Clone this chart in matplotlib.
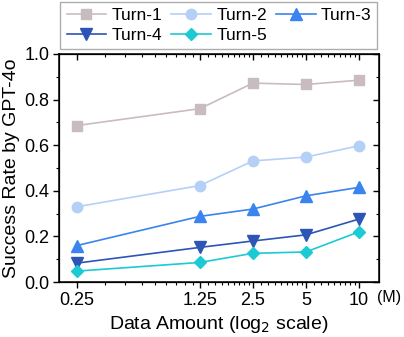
import numpy as np
import matplotlib
matplotlib.use("Agg")
import matplotlib.pyplot as plt
from matplotlib.ticker import FixedLocator, NullFormatter, FixedFormatter, MultipleLocator

plt.rcParams['font.family'] = ['Liberation Sans', 'DejaVu Sans']

# data
data_amount = [0.25, 1.25, 2.5, 5, 10]
tick_labels = ["0.25", "1.25", "2.5", "5", "10"]
turn1 = [0.686, 0.760, 0.872, 0.866, 0.885]
turn2 = [0.330, 0.423, 0.531, 0.548, 0.597]
turn3 = [0.160, 0.288, 0.320, 0.378, 0.415]
turn4 = [0.083, 0.152, 0.180, 0.207, 0.276]
turn5 = [0.048, 0.086, 0.126, 0.132, 0.220]
series_names = ["Turn-1", "Turn-2", "Turn-3", "Turn-4", "Turn-5"]

colors = ["#c9bcbf", "#b5d0f7", "#3b84ef", "#2d55b5", "#1ccad3"]
markers = ["s", "o", "^", "v", "D"]
msizes = [7, 7.5, 8, 8, 6.5]

fig = plt.figure(figsize=(4.04, 3.37), dpi=100)
ax = fig.add_axes([0.146, 0.163, 0.792, 0.677])

handles = []
for vals, name, c, m, ms in zip([turn1, turn2, turn3, turn4, turn5],
                                series_names, colors, markers, msizes):
    h, = ax.plot(data_amount, vals, color=c, marker=m, markersize=ms,
                 linewidth=1.2, label=name)
    handles.append(h)

ax.set_xscale("log", base=2)
xlim = (0.198, 13.0)
ax.set_xlim(*xlim)
ax.set_ylim(0, 1.0)

# minor ticks: 8 evenly spaced between major ones
minor = []
for a, b in zip(data_amount[:-1], data_amount[1:]):
    minor.extend(np.linspace(a, b, 10)[1:-1])

def setup_x(a):
    a.xaxis.set_major_locator(FixedLocator(data_amount))
    a.xaxis.set_major_formatter(FixedFormatter(tick_labels))
    a.xaxis.set_minor_locator(FixedLocator(minor))
    a.xaxis.set_minor_formatter(NullFormatter())

setup_x(ax)
ax.yaxis.set_major_locator(MultipleLocator(0.2))
ax.yaxis.set_minor_locator(MultipleLocator(0.1))
ax.tick_params(which="major", direction="out", length=4, width=1, labelsize=13, pad=3)
ax.tick_params(which="minor", direction="out", length=2, width=0.8)
for s in ax.spines.values():
    s.set_linewidth(1.1)

# top / right ticks pointing inward
axt = ax.twiny()
axt.set_xscale("log", base=2)
axt.set_xlim(*xlim)
setup_x(axt)
axt.tick_params(which="major", direction="in", length=4, width=1, labeltop=False)
axt.tick_params(which="minor", direction="in", length=2, width=0.8)
axr = ax.twinx()
axr.set_ylim(0, 1.0)
axr.yaxis.set_major_locator(MultipleLocator(0.2))
axr.yaxis.set_minor_locator(MultipleLocator(0.1))
axr.tick_params(which="major", direction="in", length=4, width=1, labelright=False)
axr.tick_params(which="minor", direction="in", length=2, width=0.8)

ax.set_xlabel("Data Amount (log$_2$ scale)", fontsize=14, labelpad=4)
ax.set_ylabel("Success Rate by GPT-4o", fontsize=14, labelpad=3)
ax.text(0.995, -0.035, "(M)", transform=ax.transAxes, fontsize=11.5,
        ha="left", va="top")

# row-wise order: Turn-1 Turn-2 Turn-3 / Turn-4 Turn-5
order = [0, 3, 1, 4, 2]
leg = ax.legend([handles[i] for i in order], [series_names[i] for i in order],
                loc="lower center", bbox_to_anchor=(0.5, 1.02),
                ncol=3, fontsize=12.5, frameon=True, fancybox=False,
                handlelength=2.3, handletextpad=0.3, columnspacing=0.5,
                labelspacing=0.3, borderpad=0.35, borderaxespad=0.0)
leg.get_frame().set_edgecolor("#999999")
leg.get_frame().set_linewidth(1.0)

fig.savefig("out.png", dpi=100)
